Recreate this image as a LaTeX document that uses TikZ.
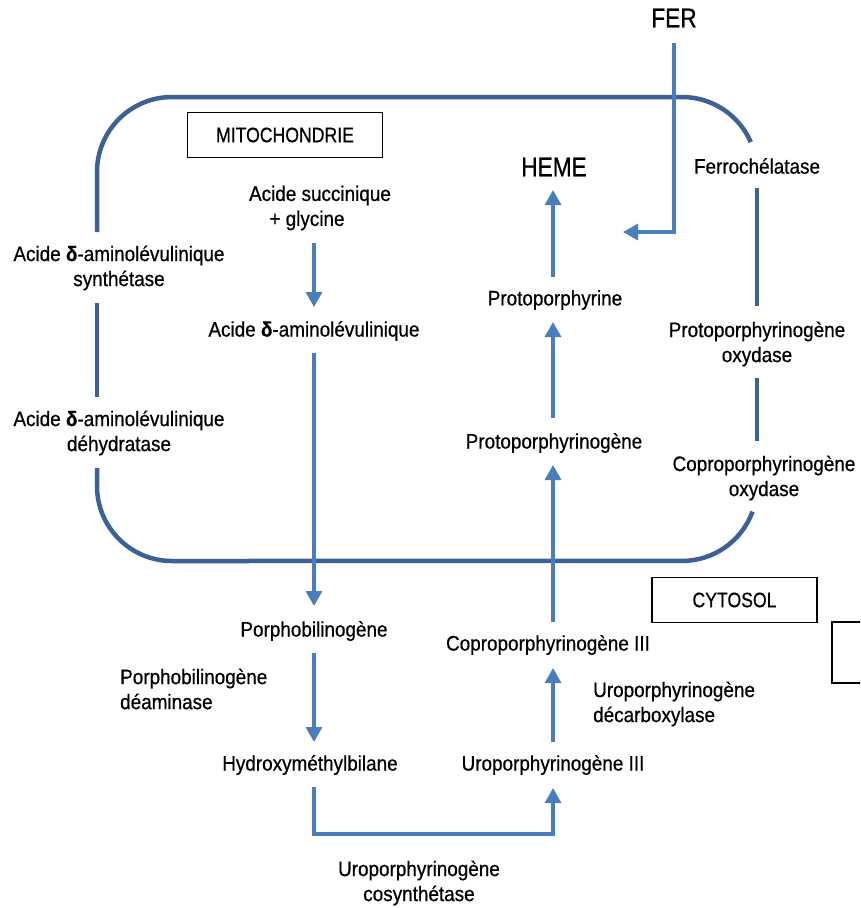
\documentclass[tikz,border=0pt]{standalone}
\usepackage{fontspec}
\setmainfont{Liberation Sans}[FakeStretch=0.9,FakeBold=0.6]
\newfontfamily\capsfont{Liberation Sans}[FakeStretch=0.84,FakeBold=0.6]
\usetikzlibrary{arrows.meta}
\definecolor{membrane}{HTML}{3C6194}
\definecolor{flowblue}{HTML}{4A7EBB}
\newcommand{\dlt}{{\bfseries δ}}
\begin{document}
\begin{tikzpicture}[x=1pt,y=-1pt,
  lbl/.style={inner sep=0pt, align=center, font=\fontsize{21}{25}\selectfont},
  biglbl/.style={inner sep=0pt, font=\capsfont\fontsize{27}{30}\selectfont},
  zone/.style={draw=black, line width=1.6pt, inner sep=0pt, font=\capsfont\fontsize{21}{25}\selectfont},
  wall/.style={draw=membrane, line width=4.5pt},
  flow/.style={draw=flowblue, line width=3.2pt, -{Triangle[width=16pt,length=15pt]}}]
\clip (0,0) rectangle (860,908);
\fill[white] (0,0) rectangle (860,908);

% mitochondrial membrane, interrupted by the enzyme labels
\draw[wall] (97,232) -- (97,172) arc[start angle=180,end angle=270,radius=75]
  -- (682,97) arc[start angle=270,end angle=336.5,radius=75];
\draw[wall] (97,303) -- (97,397);
\draw[wall] (757,188) -- (757,306);
\draw[wall] (757,378) -- (757,441);
\draw[wall] (752.5,511.6) arc[start angle=20,end angle=90,radius=75]
  -- (172,561) arc[start angle=90,end angle=180,radius=75] -- (97,468);

% compartment labels
\node[zone, minimum width=195pt, minimum height=45pt] (mito) at (285,135) {MITOCHONDRIE};
\node[zone, minimum width=165pt, minimum height=45pt] (cyto) at (734.5,600) {CYTOSOL};
\node[zone, minimum width=80pt, minimum height=61pt] (extra) at (872,652.5) {};

% metabolites
\node[biglbl] (fer) at (674,18) {FER};
\node[lbl] (succ) at (320,208) {Acide succinique\\+ glycine\hspace*{26pt}};
\node[lbl] (ala) at (314,331) {Acide \dlt-aminolévulinique};
\node[lbl] (pbg) at (314,631) {Porphobilinogène};
\node[lbl] (hmb) at (310,765) {Hydroxyméthylbilane};
\node[lbl] (uro) at (553,765) {Uroporphyrinogène III};
\node[lbl] (copro) at (548,645) {Coproporphyrinogène III};
\node[lbl] (protogen) at (554,443) {Protoporphyrinogène};
\node[lbl] (proto) at (555,300) {Protoporphyrine};
\node[biglbl] (heme) at (554,167) {HEME};

% enzymes
\node[lbl] (alas) at (119,268) {Acide \dlt-aminolévulinique\\synthétase};
\node[lbl] (alad) at (119,433) {Acide \dlt-aminolévulinique\\déhydratase};
\node[lbl, anchor=west, align=left] (pbgd) at (120,689) {Porphobilinogène\\déaminase};
\node[lbl] (uros) at (419,883) {Uroporphyrinogène\\cosynthétase};
\node[lbl, anchor=west, align=left] (urod) at (593,704) {Uroporphyrinogène\\décarboxylase};
\node[lbl] (ferro) at (757,166) {Ferrochélatase};
\node[lbl] (ppox) at (757,344) {Protoporphyrinogène\\oxydase};
\node[lbl] (cpox) at (764,478) {Coproporphyrinogène\\oxydase};

% pathway
\draw[flow] (ala.north |- 0,243) -- (ala.north |- 0,307);
\draw[flow] (ala.south |- 0,353) -- (ala.south |- 0,606);
\draw[flow] (pbg.south |- 0,653) -- (pbg.south |- 0,742);
\draw[flow] (pbg.south |- 0,787) -- (pbg.south |- 0,834) -| (uro.north |- 0,788);
\draw[flow] (uro.north |- 0,742) -- (uro.north |- 0,668);
\draw[flow] (uro.north |- 0,622) -- (uro.north |- 0,465);
\draw[flow] (uro.north |- 0,418) -- (uro.north |- 0,322);
\draw[flow] (uro.north |- 0,277) -- (uro.north |- 0,190);

% iron entry
\coordinate (ironturn) at (674,232);
\coordinate (irontip) at (623,232);
\draw[flow] (fer.south |- 0,43) -- (ironturn) -- (irontip);
\end{tikzpicture}
\end{document}
